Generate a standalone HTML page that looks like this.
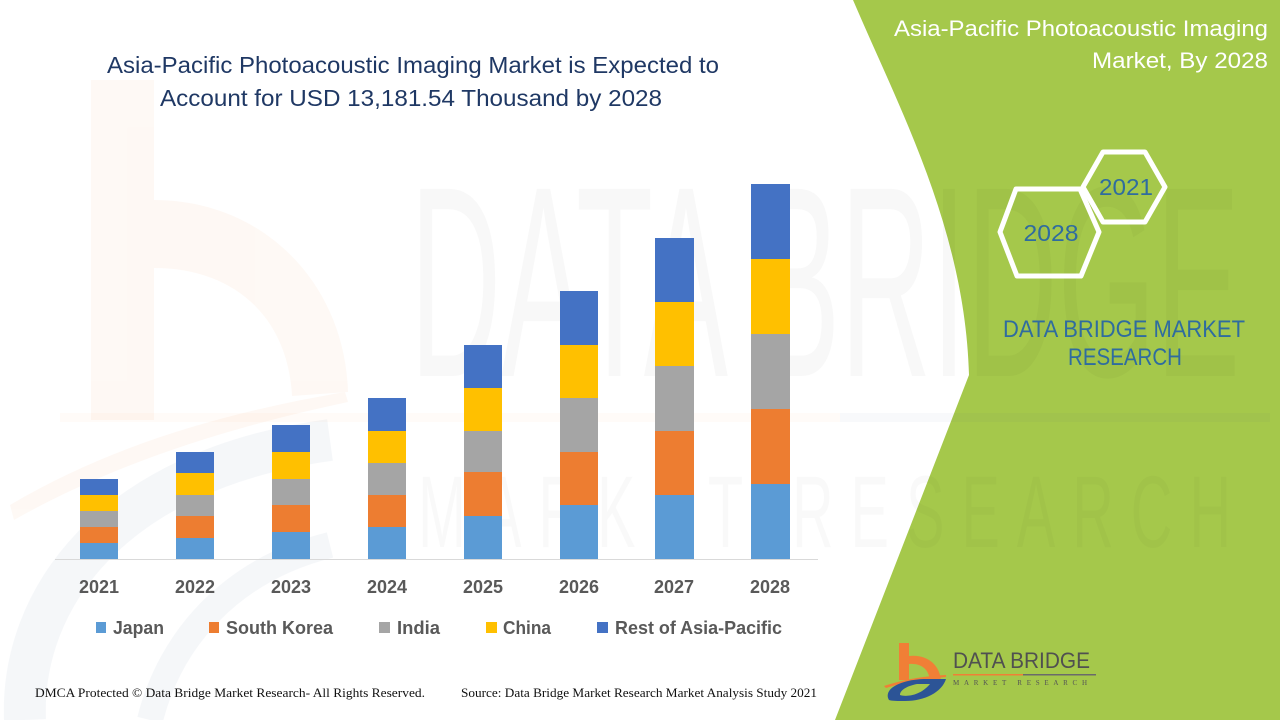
<!DOCTYPE html>
<html>
<head>
<meta charset="utf-8">
<style>
  html,body{margin:0;padding:0;background:#fff;}
  svg{display:block;}
  .cal{font-family:"Liberation Sans", sans-serif;}
  .ser{font-family:"Liberation Serif", serif;}
</style>
</head>
<body>
<svg width="1280" height="720" viewBox="0 0 1280 720" xmlns="http://www.w3.org/2000/svg">
  <rect x="0" y="0" width="1280" height="720" fill="#ffffff"/>

  <!-- faint left logo watermark -->
  <g opacity="0.05">
    <rect x="91" y="80" width="63" height="340" fill="#F4883E"/>
    <path d="M154,200 C265,200 345,285 348,392 L292,396 C288,318 235,268 154,268 Z" fill="#F4883E"/>
    <path d="M10,505 C120,440 240,410 345,392 L348,402 C240,425 120,460 14,520 Z" fill="#F4883E"/>
  </g>
  <g opacity="0.045" fill="none" stroke="#3E5F8F">
    <path d="M25,720 C20,600 110,470 330,440" stroke-width="42"/>
    <path d="M150,720 C170,640 230,570 330,545" stroke-width="26"/>
  </g>

  <!-- green panel -->
  <path d="M853,0 C900,110 965,230 969,375 L835,720 L1280,720 L1280,0 Z" fill="#A5C84B"/>

  <!-- faint text watermark -->
  <rect x="60" y="413" width="780" height="9" fill="#F4883E" opacity="0.035"/>
  <rect x="840" y="413" width="430" height="9" fill="#3E5F8F" opacity="0.035"/>
  <text class="cal" x="410" y="376" font-size="272" textLength="830" lengthAdjust="spacingAndGlyphs" fill="#000" opacity="0.025">DATA BRIDGE</text>
  <text class="cal" x="418" y="547" font-size="102" textLength="830" lengthAdjust="spacingAndGlyphs" letter-spacing="30" fill="#000" opacity="0.02">MARKET RESEARCH</text>

  <!-- axis -->
  <line x1="55" y1="559.5" x2="818" y2="559.5" stroke="#D9D9D9" stroke-width="1"/>

  <!-- bars -->
  <g>
    <!-- 2021 -->
    <rect x="80" y="543" width="38" height="16" fill="#5B9BD5"/>
    <rect x="80" y="527" width="38" height="16" fill="#ED7D31"/>
    <rect x="80" y="511" width="38" height="16" fill="#A5A5A5"/>
    <rect x="80" y="495" width="38" height="16" fill="#FFC000"/>
    <rect x="80" y="479" width="38" height="16" fill="#4472C4"/>
    <!-- 2022 -->
    <rect x="176" y="538" width="38" height="21" fill="#5B9BD5"/>
    <rect x="176" y="516" width="38" height="22" fill="#ED7D31"/>
    <rect x="176" y="495" width="38" height="21" fill="#A5A5A5"/>
    <rect x="176" y="473" width="38" height="22" fill="#FFC000"/>
    <rect x="176" y="452" width="38" height="21" fill="#4472C4"/>
    <!-- 2023 -->
    <rect x="272" y="532" width="38" height="27" fill="#5B9BD5"/>
    <rect x="272" y="505" width="38" height="27" fill="#ED7D31"/>
    <rect x="272" y="479" width="38" height="26" fill="#A5A5A5"/>
    <rect x="272" y="452" width="38" height="27" fill="#FFC000"/>
    <rect x="272" y="425" width="38" height="27" fill="#4472C4"/>
    <!-- 2024 -->
    <rect x="368" y="527" width="38" height="32" fill="#5B9BD5"/>
    <rect x="368" y="495" width="38" height="32" fill="#ED7D31"/>
    <rect x="368" y="463" width="38" height="32" fill="#A5A5A5"/>
    <rect x="368" y="431" width="38" height="32" fill="#FFC000"/>
    <rect x="368" y="398" width="38" height="33" fill="#4472C4"/>
    <!-- 2025 -->
    <rect x="464" y="516" width="38" height="43" fill="#5B9BD5"/>
    <rect x="464" y="472" width="38" height="44" fill="#ED7D31"/>
    <rect x="464" y="431" width="38" height="41" fill="#A5A5A5"/>
    <rect x="464" y="388" width="38" height="43" fill="#FFC000"/>
    <rect x="464" y="345" width="38" height="43" fill="#4472C4"/>
    <!-- 2026 -->
    <rect x="560" y="505" width="38" height="54" fill="#5B9BD5"/>
    <rect x="560" y="452" width="38" height="53" fill="#ED7D31"/>
    <rect x="560" y="398" width="38" height="54" fill="#A5A5A5"/>
    <rect x="560" y="345" width="38" height="53" fill="#FFC000"/>
    <rect x="560" y="291" width="38" height="54" fill="#4472C4"/>
    <!-- 2027 -->
    <rect x="655" y="495" width="39" height="64" fill="#5B9BD5"/>
    <rect x="655" y="431" width="39" height="64" fill="#ED7D31"/>
    <rect x="655" y="366" width="39" height="65" fill="#A5A5A5"/>
    <rect x="655" y="302" width="39" height="64" fill="#FFC000"/>
    <rect x="655" y="238" width="39" height="64" fill="#4472C4"/>
    <!-- 2028 -->
    <rect x="751" y="484" width="39" height="75" fill="#5B9BD5"/>
    <rect x="751" y="409" width="39" height="75" fill="#ED7D31"/>
    <rect x="751" y="334" width="39" height="75" fill="#A5A5A5"/>
    <rect x="751" y="259" width="39" height="75" fill="#FFC000"/>
    <rect x="751" y="184" width="39" height="75" fill="#4472C4"/>
  </g>

  <!-- year labels -->
  <g class="cal" font-size="18" font-weight="bold" fill="#595959" text-anchor="middle">
    <text x="99" y="593">2021</text>
    <text x="195" y="593">2022</text>
    <text x="291" y="593">2023</text>
    <text x="387" y="593">2024</text>
    <text x="483" y="593">2025</text>
    <text x="579" y="593">2026</text>
    <text x="674" y="593">2027</text>
    <text x="770" y="593">2028</text>
  </g>

  <!-- legend -->
  <g>
    <rect x="96" y="622" width="10" height="11" fill="#5B9BD5"/>
    <rect x="209" y="622" width="10" height="11" fill="#ED7D31"/>
    <rect x="379" y="622" width="11" height="11" fill="#A5A5A5"/>
    <rect x="486" y="622" width="11" height="11" fill="#FFC000"/>
    <rect x="597" y="622" width="11" height="11" fill="#4472C4"/>
  </g>
  <g class="cal" font-size="18" font-weight="bold" fill="#595959">
    <text x="113" y="634" textLength="51" lengthAdjust="spacingAndGlyphs">Japan</text>
    <text x="226" y="634" textLength="107" lengthAdjust="spacingAndGlyphs">South Korea</text>
    <text x="397" y="634" textLength="43" lengthAdjust="spacingAndGlyphs">India</text>
    <text x="503" y="634" textLength="48" lengthAdjust="spacingAndGlyphs">China</text>
    <text x="615" y="634" textLength="167" lengthAdjust="spacingAndGlyphs">Rest of Asia-Pacific</text>
  </g>

  <!-- title -->
  <g class="cal" font-size="23" fill="#1F3864">
    <text x="107" y="73" textLength="612" lengthAdjust="spacingAndGlyphs">Asia-Pacific Photoacoustic Imaging Market is Expected to</text>
    <text x="160" y="106" textLength="502" lengthAdjust="spacingAndGlyphs">Account for USD 13,181.54 Thousand by 2028</text>
  </g>

  <!-- footer -->
  <g class="ser" font-size="12.5" fill="#111">
    <text x="35" y="697" textLength="390" lengthAdjust="spacingAndGlyphs">DMCA Protected © Data Bridge Market Research- All Rights Reserved.</text>
    <text x="461" y="697" textLength="356" lengthAdjust="spacingAndGlyphs">Source: Data Bridge Market Research Market Analysis Study 2021</text>
  </g>

  <!-- right panel title -->
  <g class="cal" font-size="22" fill="#ffffff" text-anchor="end">
    <text x="1268" y="36" textLength="374" lengthAdjust="spacingAndGlyphs">Asia-Pacific Photoacoustic Imaging</text>
    <text x="1268" y="68" textLength="176" lengthAdjust="spacingAndGlyphs">Market, By 2028</text>
  </g>

  <!-- hexagons -->
  <g fill="none" stroke="#ffffff" stroke-width="5" stroke-linejoin="round">
    <polygon points="1083,187 1103,152 1145,152 1165,187 1145,222 1103,222"/>
    <polygon points="1000,232 1016,189 1080,189 1099,232 1081,276 1017,276"/>
  </g>
  <g class="cal" font-size="23" fill="#2F6C9F" text-anchor="middle">
    <text x="1126" y="195" textLength="54" lengthAdjust="spacingAndGlyphs">2021</text>
    <text x="1051" y="241" textLength="55" lengthAdjust="spacingAndGlyphs">2028</text>
  </g>
  <g class="cal" font-size="24" fill="#2F6C9F">
    <text x="1003" y="337" textLength="242" lengthAdjust="spacingAndGlyphs">DATA BRIDGE MARKET</text>
    <text x="1068" y="365" textLength="114" lengthAdjust="spacingAndGlyphs">RESEARCH</text>
  </g>

  <!-- bottom logo -->
  <g>
    <path d="M899,643 L909,643 L909,656 C926,654 940,664 941,681 L930,681 C929,669 921,663 909,664 L909,680 L899,680 Z" fill="#F07F36"/>
    <path d="M884,686 C905,679 925,676 946,675 L946,677 C925,679 905,682 886,688 Z" fill="#F07F36"/>
    <path d="M889,700 C883,690 898,680 924,679 L946,679 C942,692 925,701 905,701 C898,701 892,701 889,700 Z M900,695 C906,697 920,696 930,684 L917,684 C907,686 900,690 900,695 Z" fill="#2C5496" fill-rule="evenodd"/>
    <text class="cal" x="953" y="668" font-size="22" textLength="137" lengthAdjust="spacingAndGlyphs" fill="#505050">DATA BRIDGE</text>
    <rect x="953" y="674" width="70" height="1.5" fill="#F07F36"/>
    <rect x="1023" y="674" width="73" height="1.5" fill="#6a6a6a"/>
    <text class="ser" x="953" y="685" font-size="7" textLength="137" lengthAdjust="spacing" fill="#555" letter-spacing="3">MARKET RESEARCH</text>
  </g>
</svg>
</body>
</html>
